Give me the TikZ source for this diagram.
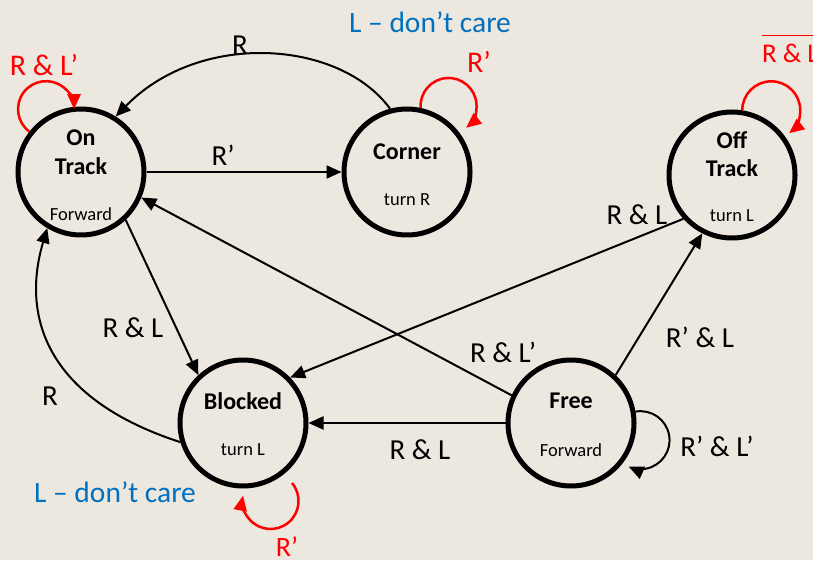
\documentclass[tikz,border=0pt]{standalone}
\usepackage{fontspec}
\setmainfont{Carlito}
\usetikzlibrary{arrows.meta}
\definecolor{bgc}{RGB}{236,231,223}
\definecolor{lblue}{RGB}{0,112,192}
\definecolor{lred}{RGB}{255,0,0}
\begin{document}
\begin{tikzpicture}[x=1pt,y=1pt,
  state/.style={circle,draw=black,line width=5pt,minimum size=126pt,inner sep=0pt},
  title/.style={font=\fontsize{24}{27}\selectfont\bfseries,inner sep=0pt},
  sub/.style={font=\fontsize{18.5}{21}\selectfont,inner sep=0pt},
  lbl/.style={font=\fontsize{29}{32}\selectfont,inner sep=0pt},
  care/.style={font=\fontsize{29.5}{32}\selectfont,inner sep=0pt,text=lblue},
  rlbl/.style={font=\fontsize{30}{33}\selectfont,inner sep=0pt,text=lred},
  edge/.style={line width=2pt,-{Triangle[length=15pt,width=13pt]}},
  selfloop/.style={line width=2.5pt,draw=lred,-{Triangle[length=15pt,width=13pt]}},
  blackloop/.style={line width=2pt,-{Triangle[length=15pt,width=13pt]}}
]
\useasboundingbox (0,0) rectangle (813,560);
\fill[bgc] (0,0) rectangle (813,560);

% states
\node[state] (ontrack) at (81,388) {};
\node[state] (corner) at (407,388) {};
\node[state] (offtrack) at (732,385) {};
\node[state] (blocked) at (243,137) {};
\node[state] (free) at (571,137) {};

% state texts
\node[title] (t1a) at ([yshift=34pt]ontrack.center) {On};
\node[title] (t1b) at ([yshift=6pt]ontrack.center) {Track};
\node[sub] (t1c) at ([yshift=-42pt]ontrack.center) {Forward};
\node[title] (t2a) at ([yshift=20pt]corner.center) {Corner};
\node[sub] (t2b) at ([yshift=-28pt]corner.center) {turn R};
\node[title] (t3a) at ([yshift=35pt]offtrack.center) {Off};
\node[title] (t3b) at ([yshift=7pt]offtrack.center) {Track};
\node[sub] (t3c) at ([yshift=-41pt]offtrack.center) {turn L};
\node[title] (t4a) at ([yshift=22pt]blocked.center) {Blocked};
\node[sub] (t4b) at ([yshift=-27pt]blocked.center) {turn L};
\node[title] (t5a) at ([yshift=22pt]free.center) {Free};
\node[sub] (t5b) at ([yshift=-27pt]free.center) {Forward};

% transitions
\draw[edge] (ontrack.east) -- (corner.west);
\draw[edge] (corner.105) .. controls (340,520) and (200,530) .. (ontrack.58);
\draw[edge] (ontrack.-47) -- (blocked.133);
\draw[edge] (blocked.197) .. controls (50,160) and (20,240) .. (ontrack.239);
\draw[edge] (free.155) -- (ontrack.-23);
\draw[edge] (offtrack.222) -- (blocked.44);
\draw[edge] (free.west) -- (blocked.east);
\draw[edge] (free.47) -- (offtrack.243);

% self loops
\draw[selfloop] (ontrack.142) arc[start angle=233.5,end angle=0,radius=28];
\draw[selfloop] (corner.78.5) arc[start angle=184,end angle=-51,radius=28];
\draw[selfloop] (offtrack.81.8) arc[start angle=180,end angle=-52,radius=29];
\draw[selfloop] ([shift={(49pt,-60pt)}]blocked.center) arc[start angle=40,end angle=-191,radius=28];
\draw[blackloop] (free.10.6) arc[start angle=100,end angle=-114,radius=29];

% edge labels
\node[lbl] (l1) at (240,515) {R};
\node[lbl] (l2) at (223,405) {R’};
\node[lbl] (l3) at (133,232) {R \& L};
\node[lbl] (l4) at (50,164) {R};
\node[lbl] (l5) at (503,208) {R \& L’};
\node[lbl] (l6) at (637,345) {R \& L};
\node[lbl] (l7) at (700,223) {R’ \& L};
\node[lbl] (l8) at (420,110) {R \& L};
\node[lbl] (l9) at (717,114) {R’ \& L’};

% red loop labels
\node[rlbl] (r1) at (44,495) {R \& L’};
\node[rlbl] (r2) at (479,498) {R’};
\node[rlbl,font=\fontsize{27}{30}\selectfont,anchor=west] (r3) at (762,507) {R \& L};
\draw[lred,line width=1.5pt] ([yshift=8pt]r3.north west) -- ([yshift=8pt,xshift=20pt]r3.north east);
\node[rlbl,font=\fontsize{28}{31}\selectfont] (r4) at (287,13) {R’};

% don't care notes
\node[care] (c1) at (430,538) {L – don’t care};
\node[care] (c2) at (115,68) {L – don’t care};
\end{tikzpicture}
\end{document}
